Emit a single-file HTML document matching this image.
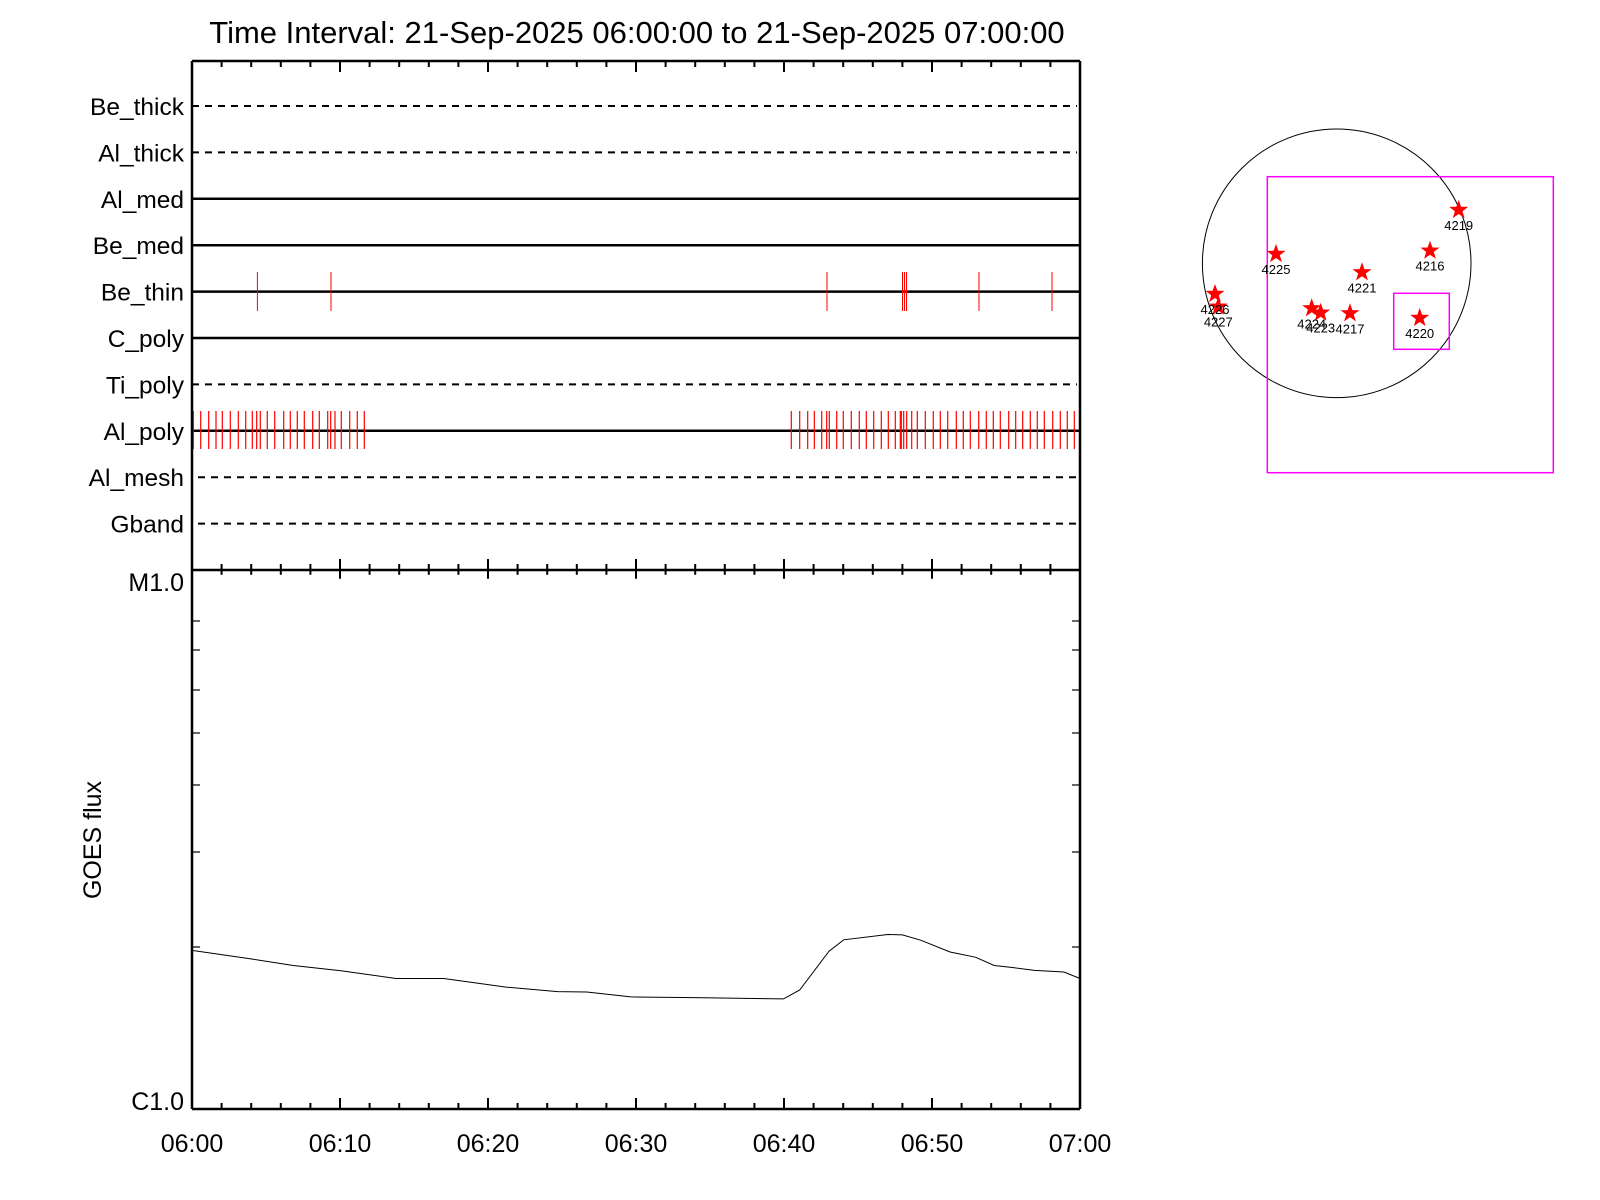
<!DOCTYPE html>
<html><head><meta charset="utf-8"><style>
html,body{margin:0;padding:0;background:#fff}
svg{display:block}
text{font-family:"Liberation Sans",sans-serif;fill:#000}
</style></head><body>
<svg id="s" width="1600" height="1200" viewBox="0 0 1600 1200" xmlns="http://www.w3.org/2000/svg">
<text x="637" y="43" font-size="31" text-anchor="middle">Time Interval: 21-Sep-2025 06:00:00 to 21-Sep-2025 07:00:00</text>
<g id="g"></g>
<polyline fill="none" stroke="#000" stroke-width="1" points="192,950.4 249.2,958.6 293.3,965.5 341,970.8 396,978.5 443.7,978.5 506.1,987.1 557.5,991.6 586.8,992 630.9,996.9 704.3,997.7 783.5,998.9 799.7,990 829,951.2 843.7,939.8 887.7,934.5 902.4,934.9 920.7,940.2 950.1,952 975.8,957.3 994.2,965.5 1012.5,967.5 1034.5,970.4 1063.9,972 1080,978.5"/>
<text x="184" y="591" font-size="25" text-anchor="end">M1.0</text>
<text x="184" y="1110" font-size="25" text-anchor="end">C1.0</text>
<text transform="translate(101,840) rotate(-90)" font-size="25" text-anchor="middle">GOES flux</text>
<circle cx="1336.7" cy="263.3" r="134.3" fill="none" stroke="#000" stroke-width="1"/>
<rect x="1267.3" y="176.7" width="286" height="296" fill="none" stroke="#f0f" stroke-width="1.5"/>
<rect x="1393.7" y="293.3" width="55.6" height="56" fill="none" stroke="#f0f" stroke-width="1.5"/>
<g id="st"></g>
</svg>
<script>
var ns="http://www.w3.org/2000/svg",g=document.getElementById("g"),st=document.getElementById("st");
function el(p,t,a,txt){var e=document.createElementNS(ns,t);for(var k in a)e.setAttribute(k,a[k]);if(txt)e.textContent=txt;p.appendChild(e);return e;}
function ln(x1,y1,x2,y2,c,w,d){var a={x1:x1,y1:y1,x2:x2,y2:y2,stroke:c||"#000","stroke-width":w||1};if(d)a["stroke-dasharray"]=d;el(g,"line",a);}
var L=192,R=1080,T=61,M=570,B=1109,px=(R-L)/60;
var names=["Be_thick","Al_thick","Al_med","Be_med","Be_thin","C_poly","Ti_poly","Al_poly","Al_mesh","Gband"];
var dash=[1,1,0,0,0,0,1,0,1,1];
for(var i=0;i<10;i++){var y=106+46.4*i;
 el(g,"text",{x:184,y:y+9,"font-size":24.5,"text-anchor":"end"},names[i]);
 if(dash[i])ln(i>=8?198:L,y,R-3,y,"#000",2,"7,6");else ln(L,y,R,y,"#000",2.5);}
var bt=[257.4,331,827,902.5,904.5,906.5,979,1052];
bt.forEach(function(x){ln(x,272,x,311,"#f00",1);});
var ap=[193.3,200.7,208.7,216,222.3,230.3,238.3,245.7,252.3,256.7,260.3,267.3,274.7,283.7,290.3,297.3,304.3,312.7,319.3,327.7,330.7,335,341.3,349.7,357.3,364.3,791.3,799.7,807.7,814.3,821.7,826.7,829.3,836.7,843.3,851.3,859.3,866.3,873.7,881.3,888.3,895.3,900.3,901.3,903.7,906.7,911.7,917.3,925.3,933.3,940.3,947.7,956.3,963.3,970.3,978.7,986.3,993.3,1000.3,1008.7,1015.7,1022.7,1030.3,1037.3,1044.3,1052.7,1060.3,1067.3,1074.3];
ap.forEach(function(x){ln(x,411,x,449,"#f00",1.2);});
ln(L,T,R,T,"#000",2.5);ln(L,M,R,M,"#000",2.5);ln(L,B,R,B,"#000",2.5);
ln(L,T,L,B,"#000",2.5);ln(R,T,R,B,"#000",2.5);
for(var m=0;m<=60;m+=2){var x=L+m*px,maj=m%10==0,h=maj?11:6;
 ln(x,T,x,T+h,"#000",2);ln(x,M-h,x,M+h*0.8,"#000",2);ln(x,B,x,B-h,"#000",2);
 if(maj){var hh=Math.floor(m/60),mm=m%60;el(g,"text",{x:x,y:1152,"font-size":25,"text-anchor":"middle"},hh?"07:00":"06:"+(mm<10?"0":"")+mm);}}
[621,650,690,733,785,852,947].forEach(function(y){ln(L,y,L+8,y,"#000",1.2);ln(R-8,y,R,y,"#000",1.2);});
function star(cx,cy,r){var p=[];for(var k=0;k<10;k++){var a=-Math.PI/2+k*Math.PI/5,rr=k%2?r*0.4:r;p.push((cx+rr*Math.cos(a)).toFixed(1)+","+(cy+rr*Math.sin(a)).toFixed(1));}el(st,"polygon",{points:p.join(" "),fill:"#f00"});}
var S=[["4219",1458.7,210],["4216",1430,250.7],["4225",1276,254],["4221",1362,272.3],["4226",1215,294],["4227",1218.3,306.7],["4224",1311.7,308.3],["4223",1320.7,312.7],["4217",1350,313.3],["4220",1419.7,318]];
S.forEach(function(s){star(s[1],s[2],10);});
S.forEach(function(s){el(st,"text",{x:s[1],y:s[2]+20,"font-size":13,"text-anchor":"middle"},s[0]);});
</script>
</body></html>
